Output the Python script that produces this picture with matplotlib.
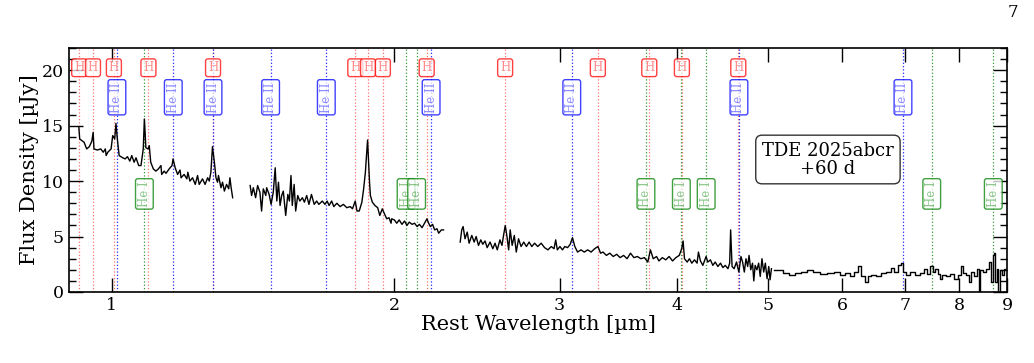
import matplotlib
matplotlib.use("Agg")
import matplotlib.pyplot as plt
from matplotlib.ticker import FixedLocator, NullLocator, MultipleLocator, FixedFormatter

plt.rcParams['font.family'] = ['DejaVu Serif']
plt.rcParams['mathtext.fontset'] = 'dejavuserif'

# spectrum, segment 1 (NIRSpec, blue end)
wl_1 = [0.922, 0.924, 0.934, 0.940, 0.946, 0.952, 0.955, 0.957, 0.965, 0.973, 0.979, 0.984,
        0.986, 0.990, 0.998, 1.002, 1.007, 1.010, 1.014, 1.018, 1.027, 1.033, 1.039, 1.045,
        1.050, 1.056, 1.061, 1.068, 1.074, 1.080, 1.083, 1.087, 1.093, 1.096, 1.100, 1.107,
        1.114, 1.121, 1.128, 1.130, 1.137, 1.142, 1.151, 1.159, 1.162, 1.168, 1.175, 1.182,
        1.185, 1.194, 1.202, 1.205, 1.211, 1.219, 1.227, 1.234, 1.239, 1.249, 1.257, 1.265,
        1.270, 1.275, 1.280, 1.286, 1.291, 1.296, 1.299, 1.307, 1.312, 1.318, 1.325, 1.332,
        1.336, 1.340, 1.345]
fl_1 = [14.9, 13.8, 13.5, 12.9, 13.1, 13.6, 14.4, 12.9, 12.8, 12.9, 12.6, 12.9,
        12.3, 12.6, 12.9, 14.1, 13.8, 15.2, 13.6, 12.3, 12.1, 12.0, 12.2, 11.8,
        12.3, 11.7, 12.1, 11.4, 11.4, 12.9, 15.6, 13.0, 12.9, 13.2, 11.7, 11.1,
        10.9, 11.1, 11.4, 10.6, 10.9, 10.7, 11.1, 11.4, 12.0, 11.2, 10.6, 11.0,
        10.3, 10.6, 10.2, 10.8, 10.0, 10.3, 9.7, 10.5, 9.7, 10.2, 9.7, 10.3,
        10.0, 10.8, 13.1, 11.7, 10.3, 9.9, 10.5, 9.4, 9.9, 9.1, 9.7, 9.3,
        10.3, 9.4, 8.5]

# segment 2
wl_2 = [1.404, 1.409, 1.415, 1.423, 1.430, 1.438, 1.444, 1.450, 1.459, 1.462, 1.471, 1.478,
        1.486, 1.493, 1.499, 1.505, 1.511, 1.517, 1.523, 1.532, 1.540, 1.546, 1.552, 1.557,
        1.564, 1.570, 1.578, 1.586, 1.596, 1.604, 1.613, 1.622, 1.632, 1.643, 1.653, 1.662,
        1.676, 1.687, 1.696, 1.704, 1.715, 1.724, 1.737, 1.751, 1.765, 1.780, 1.795, 1.805,
        1.817, 1.825, 1.835, 1.847, 1.855, 1.863, 1.868, 1.873, 1.877, 1.882, 1.886, 1.895,
        1.907, 1.920, 1.930, 1.942, 1.951, 1.963, 1.974, 1.984, 1.987, 2.000, 2.012, 2.024,
        2.038, 2.051, 2.063, 2.075, 2.089, 2.102, 2.115, 2.127, 2.141, 2.154, 2.167, 2.176,
        2.185, 2.197, 2.208, 2.221, 2.230, 2.245, 2.257]
fl_2 = [9.6, 8.7, 9.4, 8.5, 9.6, 9.0, 7.3, 9.3, 8.7, 9.4, 8.8, 7.9,
        9.0, 11.2, 8.2, 9.9, 7.8, 8.7, 9.1, 6.9, 8.8, 8.2, 10.5, 7.8,
        9.7, 7.3, 8.7, 8.2, 8.5, 8.1, 8.7, 7.9, 8.8, 7.9, 8.2, 7.9,
        8.2, 7.9, 8.2, 7.8, 8.2, 7.7, 8.0, 7.7, 7.9, 7.6, 7.7, 7.5,
        8.2, 7.3, 7.3, 8.1, 9.3, 10.8, 12.3, 13.7, 12.0, 9.9, 8.7, 8.1,
        7.8, 7.6, 6.9, 7.5, 7.1, 6.6, 6.7, 6.2, 6.6, 6.5, 6.2, 6.5,
        6.1, 6.4, 6.0, 6.3, 6.1, 6.2, 5.9, 6.1, 5.8, 6.2, 6.6, 6.2,
        5.9, 6.1, 5.6, 5.7, 5.3, 5.6, 5.6]

# segment 3 (NIRSpec, red end)
wl_3 = [2.351, 2.360, 2.368, 2.379, 2.392, 2.403, 2.419, 2.433, 2.445, 2.459, 2.473, 2.485,
        2.499, 2.512, 2.530, 2.547, 2.561, 2.575, 2.592, 2.605, 2.615, 2.626, 2.637, 2.648,
        2.658, 2.671, 2.685, 2.698, 2.713, 2.730, 2.748, 2.766, 2.784, 2.803, 2.822, 2.844,
        2.868, 2.892, 2.916, 2.940, 2.960, 2.972, 2.984, 3.003, 3.022, 3.039, 3.060, 3.080,
        3.097, 3.115, 3.136, 3.162, 3.188, 3.215, 3.242, 3.270, 3.297, 3.318, 3.338, 3.366,
        3.394, 3.423, 3.452, 3.481, 3.511, 3.541, 3.571, 3.601, 3.632, 3.663, 3.695, 3.726,
        3.750, 3.776, 3.807, 3.829, 3.861, 3.894, 3.926, 3.959, 3.992, 4.025, 4.049, 4.063,
        4.077, 4.104, 4.127, 4.151, 4.178, 4.205, 4.219, 4.240, 4.265, 4.299, 4.317, 4.345,
        4.371, 4.396, 4.425, 4.454, 4.480, 4.506, 4.536, 4.555, 4.566, 4.582, 4.605, 4.632,
        4.659, 4.683, 4.702, 4.722, 4.741, 4.761, 4.777, 4.797, 4.818, 4.833, 4.849, 4.870,
        4.891, 4.910, 4.931, 4.952, 4.972, 4.993, 5.014, 5.030, 5.047]
fl_3 = [4.5, 5.6, 5.9, 4.8, 5.4, 4.4, 5.1, 4.5, 5.0, 4.2, 4.7, 4.3,
        4.6, 4.0, 4.5, 3.9, 4.4, 3.8, 4.7, 4.2, 5.1, 6.0, 5.0, 3.8,
        5.6, 4.2, 5.1, 3.6, 4.8, 4.1, 4.5, 4.1, 4.5, 4.1, 4.4, 4.1,
        4.4, 4.0, 3.8, 4.1, 3.9, 4.7, 3.8, 4.1, 3.8, 4.1, 4.0, 4.3,
        4.9, 4.1, 3.6, 3.8, 3.6, 3.8, 3.6, 3.9, 4.1, 3.5, 3.6, 3.3,
        3.5, 3.2, 3.4, 3.1, 3.3, 3.0, 3.5, 3.1, 3.2, 3.0, 3.1, 2.7,
        3.8, 3.0, 3.2, 2.8, 3.1, 2.9, 3.2, 2.8, 3.1, 3.3, 3.9, 4.6,
        3.0, 2.7, 3.0, 2.6, 2.9, 2.6, 3.6, 2.8, 2.4, 3.2, 2.7, 2.9,
        2.4, 2.7, 2.3, 2.6, 2.2, 2.4, 2.1, 2.6, 5.6, 2.3, 2.1, 2.7,
        1.8, 3.2, 2.7, 1.8, 3.0, 2.3, 3.3, 2.0, 2.6, 1.0, 2.4, 2.0,
        2.6, 1.4, 3.0, 1.8, 2.6, 1.2, 2.3, 1.1, 2.1]

# segment 4 (MIRI LRS)
wl_4 = [5.08, 5.16, 5.22, 5.31, 5.38, 5.47, 5.55, 5.64, 5.74, 5.83, 5.93, 6.00,
        6.08, 6.15, 6.20, 6.28, 6.31, 6.38, 6.41, 6.49, 6.57, 6.65, 6.73, 6.79,
        6.84, 6.92, 6.96, 6.99, 7.06, 7.13, 7.22, 7.31, 7.38, 7.42, 7.48, 7.52,
        7.57, 7.62, 7.66, 7.70, 7.78, 7.87, 7.93, 8.01, 8.06, 8.11, 8.17, 8.22,
        8.27, 8.33, 8.37, 8.41, 8.45, 8.51, 8.58, 8.63, 8.67, 8.70, 8.73, 8.76,
        8.79, 8.83, 8.86, 8.91, 8.95]
fl_4 = [2.0, 2.0, 1.7, 1.5, 1.7, 1.8, 2.0, 1.8, 1.6, 1.7, 1.8, 1.5,
        1.7, 1.4, 1.8, 2.3, 1.4, 0.9, 1.4, 1.5, 1.4, 1.7, 1.8, 2.2,
        1.8, 2.4, 2.6, 1.8, 1.5, 1.8, 1.5, 1.7, 2.1, 1.6, 2.3, 1.8,
        2.1, 1.6, 1.2, 1.5, 1.4, 1.6, 1.2, 1.5, 2.3, 1.7, 1.5, 0.9,
        1.8, 1.4, 2.1, 0.0, 2.0, 1.8, 2.1, 2.7, 0.9, 3.3, 3.5, 0.9,
        2.1, 0.0, 2.0, 1.5, 2.1]

# line identifications (rest wavelength, um)
h_lines = [0.9229, 0.9546, 1.0049, 1.0938, 1.2818, 1.8174, 1.8751, 1.9446, 2.1655,
           2.6252, 3.2961, 3.7395, 4.0512, 4.6525]
heii_lines = [1.0124, 1.1626, 1.2817, 1.4763, 1.6926, 2.1891, 3.0917, 4.66, 6.97]
hei_lines = [1.0830, 2.0587, 2.1126, 3.709, 4.046, 4.30, 7.48, 8.70]

fig = plt.figure(figsize=(10.34, 3.63), dpi=100)
ax = fig.add_axes([0.0667, 0.1956, 0.9073, 0.6722])

for wl, fl in [(wl_1, fl_1), (wl_2, fl_2), (wl_3, fl_3)]:
    ax.plot(wl, fl, color='black', lw=1.0, zorder=3)
ax.plot(wl_4, fl_4, color='black', lw=1.0, drawstyle='steps-mid', zorder=3)

species = [
    (h_lines, 'H', 'red', 0.919, 0, 0.55),
    (heii_lines, 'He II', 'blue', 0.798, 90, 0.85),
    (hei_lines, 'He I', 'green', 0.402, 90, 0.8),
]
for waves, label, col, ypos, rot, a in species:
    for w in waves:
        ax.axvline(w, color=col, ls=':', lw=0.9, alpha=a, zorder=1)
        ax.text(w, ypos, label, transform=ax.get_xaxis_transform(), rotation=rot,
                ha='center', va='center', fontsize=8.5,
                color=matplotlib.colors.to_rgba(col, 0.45),
                bbox=dict(boxstyle='round,pad=0.2', facecolor='white',
                          edgecolor=col, lw=1.0, alpha=0.75),
                zorder=4)

ax.text(0.809, 0.543, 'TDE 2025abcr\n+60 d', transform=ax.transAxes, ha='center',
        va='center', fontsize=13, linespacing=1.0,
        bbox=dict(boxstyle='round,pad=0.35', facecolor='white', edgecolor='black',
                  lw=1.0, alpha=0.8), zorder=5)

ax.set_xscale('log')
ax.set_xlim(0.9, 9.0)
ax.set_ylim(0, 22)
ax.xaxis.set_major_locator(FixedLocator([1, 2, 3, 4, 5, 6, 7, 8, 9]))
ax.xaxis.set_major_formatter(FixedFormatter(['1', '2', '3', '4', '5', '6', '7', '8', '9']))
ax.xaxis.set_minor_locator(NullLocator())
ax.yaxis.set_major_locator(MultipleLocator(5))
ax.yaxis.set_minor_locator(MultipleLocator(1))
ax.tick_params(which='both', direction='in', top=True, right=True, labelsize=12.5)
ax.tick_params(which='major', length=10, width=1.0)
ax.tick_params(which='minor', length=5, width=1.0)
for s in ax.spines.values():
    s.set_linewidth(1.2)

ax.set_xlabel('Rest Wavelength [µm]', fontsize=15, labelpad=1)
ax.set_ylabel('Flux Density [µJy]', fontsize=15, labelpad=2)

fig.text(0.985, 0.965, '7', fontsize=12, ha='right', va='center')

fig.savefig('out.png', dpi=100)
